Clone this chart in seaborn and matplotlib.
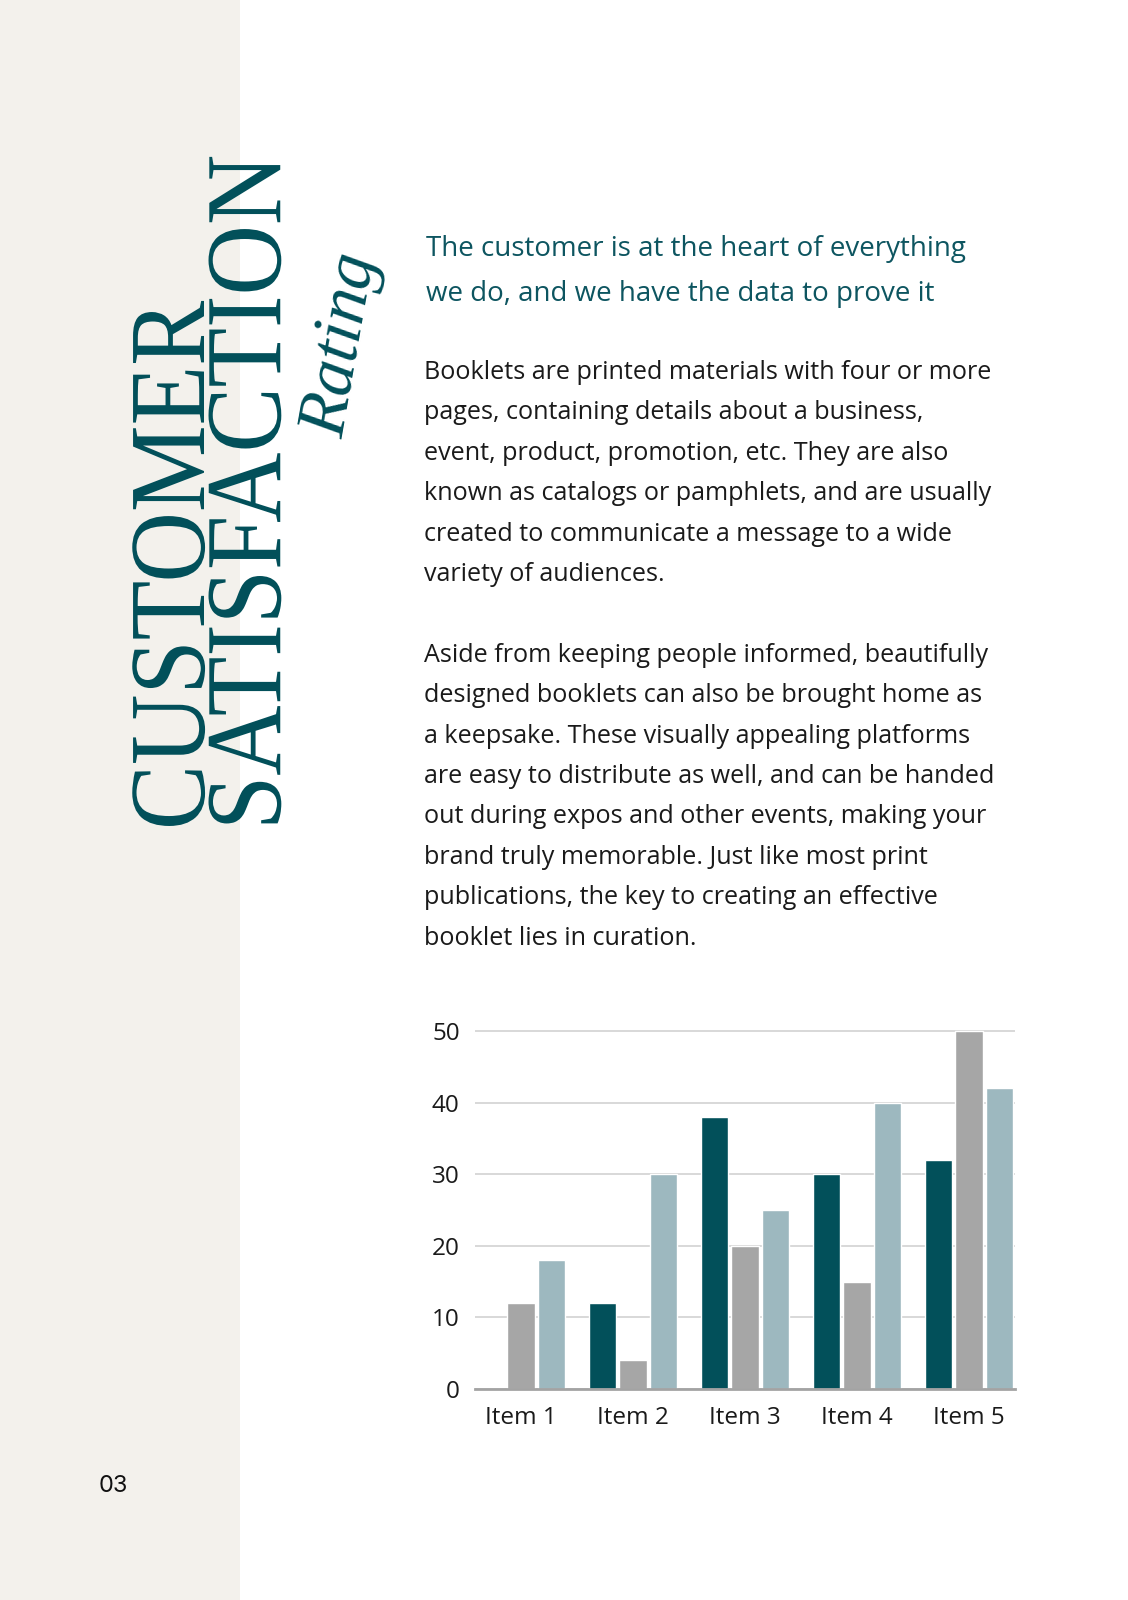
import matplotlib
matplotlib.use("Agg")
import matplotlib.pyplot as plt
from matplotlib.patheffects import AbstractPathEffect
from matplotlib.transforms import Affine2D
import pandas as pd
import seaborn as sns

# data
items = ["Item 1", "Item 2", "Item 3", "Item 4", "Item 5"]
series_a = [0, 12, 38, 30, 32]
series_b = [12, 4, 20, 15, 50]
series_c = [18, 30, 25, 40, 42]
y_ticks = [0, 10, 20, 30, 40, 50]

title = "CUSTOMER\nSATISFACTION"
script_word = "Rating"
subtitle = ["The customer is at the heart of everything",
            "we do, and we have the data to prove it"]
body = ["Booklets are printed materials with four or more",
        "pages, containing details about a business,",
        "event, product, promotion, etc. They are also",
        "known as catalogs or pamphlets, and are usually",
        "created to communicate a message to a wide",
        "variety of audiences.",
        "",
        "Aside from keeping people informed, beautifully",
        "designed booklets can also be brought home as",
        "a keepsake. These visually appealing platforms",
        "are easy to distribute as well, and can be handed",
        "out during expos and other events, making your",
        "brand truly memorable. Just like most print",
        "publications, the key to creating an effective",
        "booklet lies in curation."]
page_no = "03"

TEAL = "#02505a"
GREY = "#a6a6a6"
LIGHT = "#9db8bf"
W, H = 1128, 1600

sns.set_theme(style="white")
plt.rcParams["font.family"] = ["Open Sans", "DejaVu Sans"]


class Squeeze(AbstractPathEffect):
    """squeeze glyphs along the baseline (condensed look)"""
    def __init__(self, sx):
        super().__init__()
        self.sx = sx

    def draw_path(self, renderer, gc, tpath, affine, rgbFace=None):
        renderer.draw_path(gc, tpath, Affine2D().scale(self.sx, 1) + affine, rgbFace)


def fx(x):
    return x / W


def fy(y):
    return 1 - y / H


fig = plt.figure(figsize=(W / 100, H / 100), dpi=100)
fig.patch.set_facecolor("white")

# beige side panel
fig.patches.append(plt.Rectangle((0, 0), fx(240), 1, transform=fig.transFigure,
                                 facecolor="#f3f1ec", edgecolor="none", zorder=0))

# vertical title (two lines, one text)
fig.text(fx(302), fy(830), title, rotation=90, rotation_mode="anchor",
         ha="left", va="baseline", fontsize=78, color=TEAL, linespacing=0.71,
         family="Liberation Serif", path_effects=[Squeeze(0.90)])
fig.text(fx(342), fy(345), script_word, rotation=80, ha="center", va="center",
         fontsize=50, color=TEAL, family="Liberation Serif", style="italic")

# texts
for i, line in enumerate(subtitle):
    fig.text(fx(426), fy(256 + i * 45), line, fontsize=20, color="#0d5560",
             ha="left", va="baseline")
for i, line in enumerate(body):
    fig.text(fx(424), fy(379 + i * 40.4), line, fontsize=18.1, color="#1a1a1a",
             ha="left", va="baseline")
fig.text(fx(113), fy(1486), page_no, fontsize=17, color="#111111",
         ha="center", va="center", family=["Inter", "DejaVu Sans"])

# chart
df = pd.DataFrame({
    "item": items * 3,
    "series": ["A"] * 5 + ["B"] * 5 + ["C"] * 5,
    "value": series_a + series_b + series_c,
})
ax = fig.add_axes([fx(475), 211 / H, 540 / W, 358 * 51 / 50 / H])
sns.barplot(data=df, x="item", y="value", hue="series", order=items,
            hue_order=["A", "B", "C"], palette=[TEAL, GREY, LIGHT],
            width=0.82, gap=0.1, saturation=1, ax=ax, legend=False, zorder=3)
ax.set_xlim(-0.41, 4.41)
ax.set_ylim(0, 51)
ax.set_yticks(y_ticks)
ax.set_xlabel("")
ax.set_ylabel("")
ax.set_facecolor("none")
ax.grid(axis="y", color="#d2d2d2", linewidth=1.2, zorder=0)
ax.grid(axis="x", visible=False)
for s in ["top", "right", "left"]:
    ax.spines[s].set_visible(False)
ax.spines["bottom"].set_color("#a3a3a3")
ax.spines["bottom"].set_linewidth(2)
ax.spines["bottom"].set_zorder(4)
ax.tick_params(axis="y", length=0, pad=11, labelsize=17.5, labelcolor="#1a1a1a")
ax.tick_params(axis="x", length=0, pad=12, labelsize=17.5, labelcolor="#1a1a1a")

fig.savefig("out.png", dpi=100, facecolor="white")
